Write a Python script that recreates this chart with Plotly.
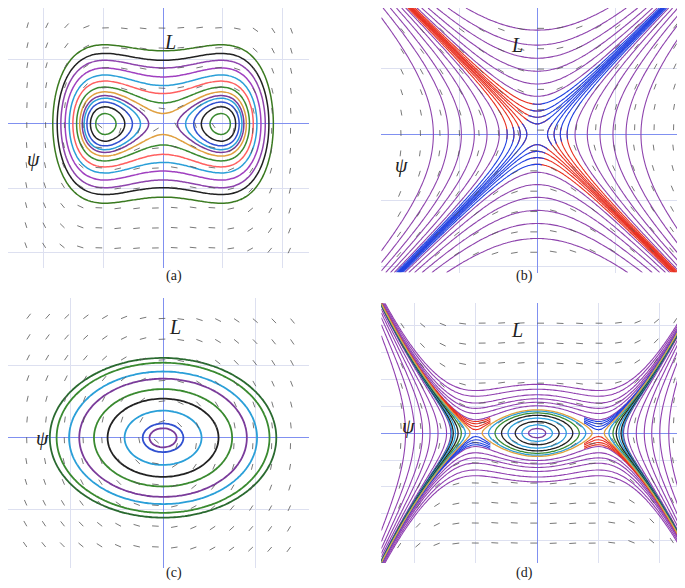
import numpy as np
import plotly.graph_objects as go

# ---- data (levels) ----
levels_a = [-0.22, -0.17, -0.12, -0.07, -0.03, 0.03, 0.12, 0.25, 0.4, 0.6, 0.85, 1.1, 1.45]
colors_a = ["#3a8a30", "#222222", "#3050d0", "#2a9fd8", "#7a3b9a", "#e0a040", "#3a8a30", "#ff6060",
            "#2a9fd8", "#a040c0", "#8e44ad", "#222222", "#3a7a20"]
levels_b = [-3.0, -2.2, -1.6, -1.1, -0.7, -0.4, 0.4, 0.7, 1.1, 1.6, 2.2, 3.0]
levels_b_sep = [-0.25, -0.15, -0.08, -0.03, 0.03, 0.08, 0.15, 0.25]
radii_c = [0.12, 0.18, 0.34, 0.49, 0.61, 0.74, 0.83, 0.94, 1.0]
colors_c = ["#7a3b9a", "#3050d0", "#2a9fd8", "#222222", "#3a8a30", "#7a3b9a", "#2a9fd8", "#3a8a30", "#2a6a30"]
levels_d_in = [0.01, 0.03, 0.06, 0.1, 0.14, 0.18, 0.215, 0.24]
colors_d_in = ["#7a3b9a", "#2a9fd8", "#222222", "#2a9fd8", "#222222", "#3a8a30", "#2a9fd8", "#e0a040"]
levels_d_out = [-3.0, -2.0, -1.3, -0.8, -0.4, -0.1, 0.33, 0.42, 0.52, 0.65, 0.85, 1.05]
levels_d_sep = [0.255, 0.27, 0.29, 0.31]

N = 110
fig = go.Figure()
dom = {1: ([0, 0.44], [0.558, 1]), 2: ([0.545, 1], [0.55, 1]),
       3: ([0, 0.44], [0.048, 0.507]), 4: ([0.545, 1], [0.056, 0.498])}
rng = {1: ([-2.67, 2.52], [-3.35, 2.7]), 2: ([-2.6, 2.6], [-2.3, 2.1]),
       3: ([-2.67, 2.52], [-2.1, 2.26]), 4: ([-2.54, 2.54], [-3.86, 3.86])}
dt = {1: (1.03, 1.5), 2: (1.3, 1.1), 3: (1.6, 1.16), 4: (1.0, 0.8)}

def H(k, P, L):
    if k == 1: return L**2/2 - P**2/2 + P**4/4
    if k == 2: return L**2 - P**2
    if k == 3: return (L/1.29)**2 + (P/1.95)**2
    return L**2/2 + P**2/2 - P**4/4

def field(k, P, L):
    if k == 1: return L, P - P**3
    if k == 2: return L, P
    if k == 3: return L, -P
    return L, -P + P**3

def contour(k, h, c, w=1.6, mask=None):
    x = np.round(np.linspace(*rng[k][0], N), 4); y = np.round(np.linspace(*rng[k][1], N), 4)
    P, L = np.meshgrid(x, y)
    z = H(k, P, L)
    if mask is not None:
        z = np.where(mask(P, L), z, np.nan)
    z = np.round(z, 4)
    fig.add_trace(go.Contour(x=x, y=y, z=z, xaxis=f"x{k}", yaxis=f"y{k}",
        contours=dict(start=h, end=h, size=1, coloring="lines"),
        colorscale=[[0, c], [1, c]], showscale=False, line=dict(width=w, smoothing=1.3),
        hoverinfo="skip"))

for k in range(1, 5):
    xs, ys = [], []
    (x0, x1), (y0, y1) = rng[k]
    for px in np.linspace(x0, x1, 17)[1:-1]:
        for py in np.linspace(y0, y1, 14)[1:-1]:
            u, v = field(k, px, py)
            su, sv = u / (x1 - x0), v / (y1 - y0)
            n = np.hypot(su, sv) + 1e-9
            s = 0.022
            xs += [px, px + su/n*s*(x1-x0), None]; ys += [py, py + sv/n*s*(y1-y0), None]
    fig.add_trace(go.Scatter(x=xs, y=ys, mode="lines", line=dict(color="#555", width=0.8),
                             xaxis=f"x{k}", yaxis=f"y{k}", hoverinfo="skip"))

for h, c in zip(levels_a, colors_a): contour(1, h, c, 1.5)
for h in levels_b: contour(2, h, "#8e44ad", 1.1)
for h in levels_b_sep:
    contour(2, h, "#e83020", 1.1, mask=lambda P, L: P*L <= 0.05)
    contour(2, h, "#2040e0", 1.1, mask=lambda P, L: P*L >= -0.05)
for r, c in zip(radii_c, colors_c): contour(3, r*r, c, 1.8)
for h in levels_d_out: contour(4, h, "#9040b0", 1.1)
for h in levels_d_sep:
    contour(4, h, "#e83020", 1.1, mask=lambda P, L: (P*L <= 0.02) & (np.abs(P) > 0.75))
    contour(4, h, "#2040e0", 1.1, mask=lambda P, L: (P*L >= -0.02) & (np.abs(P) > 0.75))
for h, c in zip(levels_d_in, colors_d_in): contour(4, h, c, 1.3)

layout = dict(width=685, height=588, margin=dict(l=0, r=0, t=0, b=0),
              paper_bgcolor="white", plot_bgcolor="white", showlegend=False)
for k in range(1, 5):
    gx = dict(domain=dom[k][0], range=rng[k][0], showticklabels=False, ticks="",
              showgrid=True, gridcolor="#dde0f0", dtick=dt[k][0], tick0=0,
              zeroline=True, zerolinecolor="#8090f0", zerolinewidth=1.3, showline=False)
    gy = dict(domain=dom[k][1], range=rng[k][1], showticklabels=False, ticks="",
              showgrid=True, gridcolor="#dde0f0", dtick=dt[k][1], tick0=0,
              zeroline=True, zerolinecolor="#8090f0", zerolinewidth=1.3, showline=False)
    layout[f"xaxis{k}"] = dict(gx, anchor=f"y{k}")
    layout[f"yaxis{k}"] = dict(gy, anchor=f"x{k}")
fig.update_layout(**layout)

ann = []
for k, (lx, ly, px, py) in {1: (0.225, 0.965, 0.025, 0.765), 2: (0.755, 0.96, 0.575, 0.755),
                             3: (0.232, 0.457, 0.038, 0.245), 4: (0.755, 0.452, 0.585, 0.265)}.items():
    ann.append(dict(x=lx, y=ly, text="<i>L</i>", xref="paper", yref="paper", showarrow=False,
                    font=dict(family="Liberation Serif", size=20, color="#222")))
    ann.append(dict(x=px, y=py, text="<i>ψ</i>", xref="paper", yref="paper", showarrow=False,
                    font=dict(family="Liberation Serif", size=20, color="#222")))
for t, x, y in [("(a)", 0.228, 0.545), ("(b)", 0.77, 0.545), ("(c)", 0.228, 0.022), ("(d)", 0.77, 0.022)]:
    ann.append(dict(x=x, y=y, text=t, xref="paper", yref="paper", showarrow=False,
                    font=dict(family="Liberation Serif", size=14, color="#222")))
fig.update_layout(annotations=ann)
fig.write_html("out.html")
